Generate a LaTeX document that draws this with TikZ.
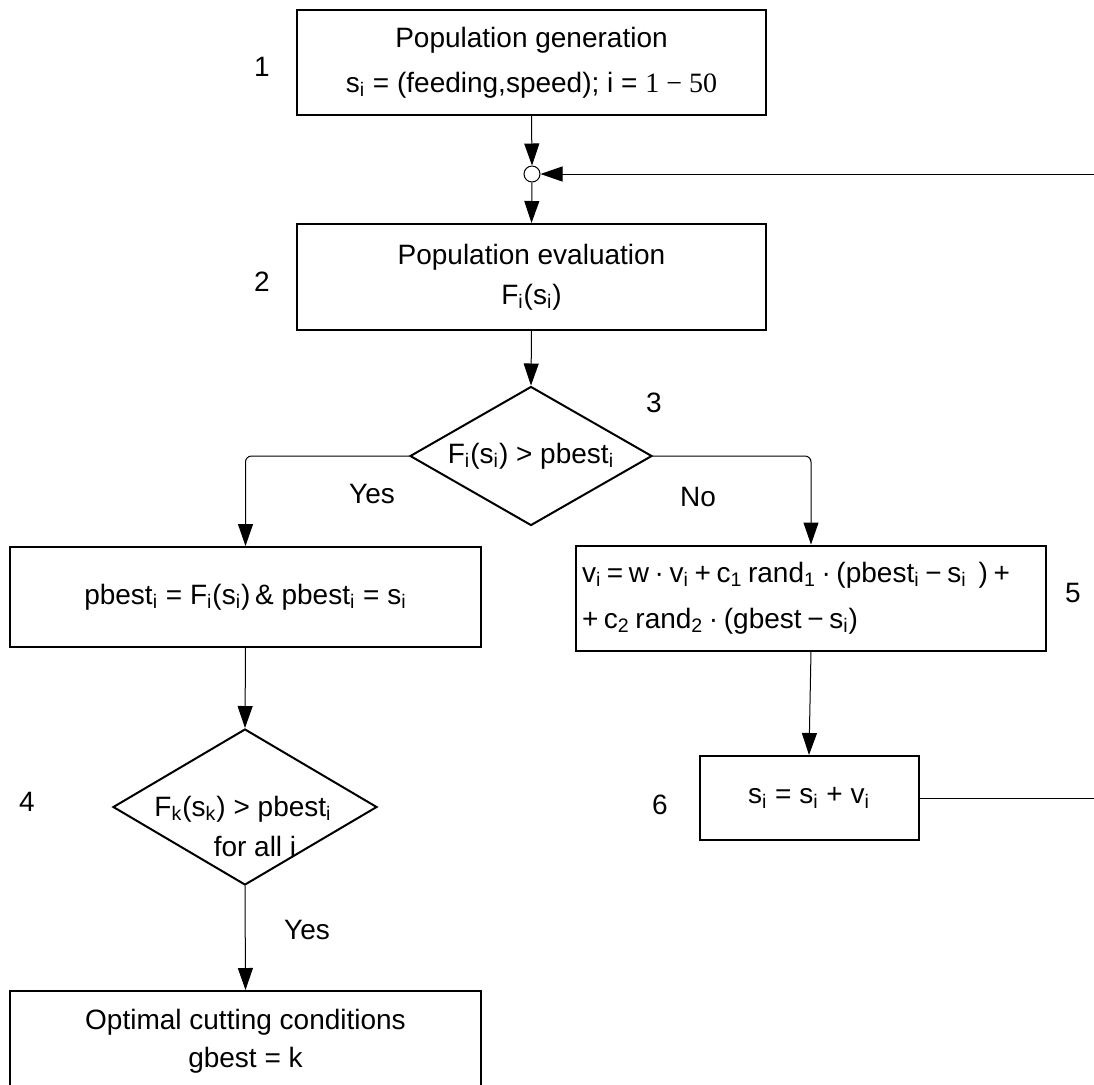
\documentclass[tikz,border=0pt]{standalone}
\usepackage{fontspec}
\setmainfont{Liberation Sans}
\newfontfamily\tnr{Liberation Serif}
\usetikzlibrary{arrows.meta,shapes.geometric}
\newcommand\sbx[1]{\textsubscript{#1}}
\newcommand\tightsp{\spaceskip=0.2em plus 0.02em\relax}
\begin{document}
\begin{tikzpicture}[x=0.5pt,y=-0.5pt,
  every node/.style={font=\fontsize{14}{17}\selectfont},
  box/.style={draw,line width=1pt,inner sep=0pt,align=center},
  dec/.style={draw,line width=1pt,shape=diamond,inner sep=0pt,shape aspect=1.74},
  conn/.style={line width=0.5pt,-{Triangle[length=11pt,width=7.5pt]}},
  lbl/.style={inner sep=0pt}]
\clip (0,0) rectangle (1094,1084);
\fill[white] (0,0) rectangle (1094,1084);

% boxes
\node[box,minimum width=234.5pt,minimum height=52.5pt] (b1) at (531.5,62.5)
  {Population generation\\[5.5pt] s\sbx{i} = (feeding,speed); i = {\tnr 1 − 50}};
\node[circle,draw,line width=0.5pt,minimum size=8pt,inner sep=0pt] (jn) at (532,174) {};
\node[box,minimum width=234.5pt,minimum height=53pt] (b2) at (531.5,277)
  {Population evaluation\\[3pt] F\sbx{i}(s\sbx{i})};
\node[dec,minimum width=121pt,minimum height=69.5pt] (d3) at (531,456)
  {F\sbx{i}(s\sbx{i}) > pbest\sbx{i}};
\node[box,minimum width=235.5pt,minimum height=50pt] (b4) at (245.5,597)
  {pbest\sbx{i} = F\sbx{i}(s\sbx{i})\,\& pbest\sbx{i} = s\sbx{i}};
\node[box,align=left,inner xsep=3pt,text width=229pt,minimum height=52.5pt] (b5) at (811,598)
  {\tightsp v\sbx{i} = w · v\sbx{i} + c\sbx{1} rand\sbx{1} · (pbest\sbx{i} − s\sbx{i}\hspace{6pt}) +\\[6pt] + c\sbx{2} rand\sbx{2} · (gbest − s\sbx{i})};
\node[box,minimum width=109.5pt,minimum height=42pt] (b6) at (809,798)
  {s\sbx{i} = s\sbx{i} + v\sbx{i}};
\node[dec,minimum width=132pt,minimum height=78pt] (d4) at (245,807) {};
\node[lbl,align=center] (t4) at (243,826)
  {F\sbx{k}(s\sbx{k}) > pbest\sbx{i}\\[3pt]\hspace*{12pt}for all i};
\node[box,minimum width=235.5pt,minimum height=50pt] (b7) at (245.5,1041)
  {Optimal cutting conditions\\[2pt] gbest = k};

% step numbers and branch labels
\node[lbl] (n1) at (262,67) {1};
\node[lbl] (n2) at (262,282) {2};
\node[lbl] (n3) at (654,403) {3};
\node[lbl] (n4) at (27,802) {4};
\node[lbl] (n5) at (1073,593) {5};
\node[lbl] (n6) at (660,805) {6};
\node[lbl] (yes1) at (372,494) {Yes};
\node[lbl] (no1) at (698,497) {No};
\node[lbl] (yes2) at (307,930) {Yes};

% feedback coordinates (outside the right edge)
\coordinate (fb1) at (1098,798);
\coordinate (fb2) at (1098,174);

% connectors
\draw[conn] (b1.south) -- (jn.north);
\draw[conn] (jn.south) -- (b2.north);
\draw[conn] (b2.south) -- (d3.north);
\draw[conn,rounded corners=3pt] (d3.west) -| (b4.north);
\draw[conn,rounded corners=3pt] (d3.east) -| (b5.north);
\draw[conn] (b4.south) -- (d4.north);
\draw[conn] (d4.south) -- (b7.north);
\draw[conn] (b5.south) -- (b6.north);
\draw[conn] (b6.east) -- (fb1) -- (fb2) -- (jn.east);
\end{tikzpicture}
\end{document}
